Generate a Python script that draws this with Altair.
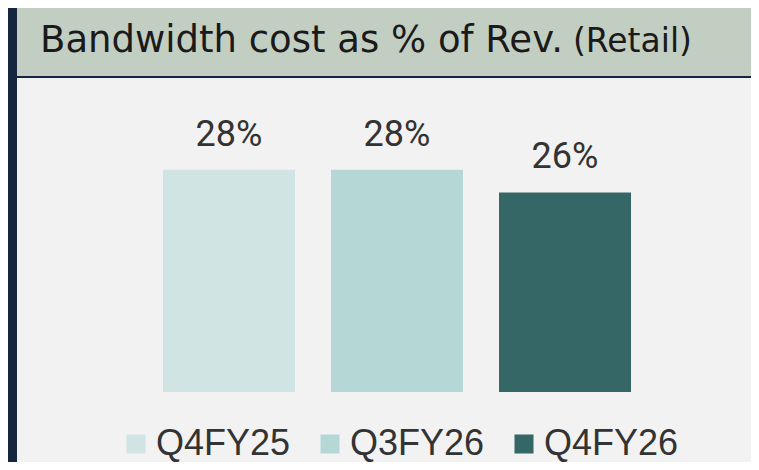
import altair as alt
import pandas as pd

# ---- data ----
quarters = ["Q4FY25", "Q3FY26", "Q4FY26"]
values = [28.4, 28.4, 25.5]          # % of revenue (labels read 28%, 28%, 26%)
colors = ["#d0e5e3", "#b5d8d7", "#366767"]
title_main = "Bandwidth cost as % of Rev."
title_sub = "(Retail)"

df = pd.DataFrame({"quarter": quarters, "value": values})
one = pd.DataFrame({"k": [0]})

W, H = 504, 313  # plot area (bars region)

x = alt.X("quarter:N", sort=quarters, axis=None,
          scale=alt.Scale(paddingInner=0.2143, paddingOuter=0.1071))
y = alt.Y("value:Q", axis=None, scale=alt.Scale(domain=[0, 40]))

panel = alt.Chart(one).mark_rect(color="#f2f2f2").encode(
    x=alt.value(-128), x2=alt.value(620), y=alt.value(-1), y2=alt.value(400))

band = alt.Chart(one).mark_rect(color="#c3cec2").encode(
    x=alt.value(-128), x2=alt.value(620), y=alt.value(-80), y2=alt.value(-3))

t_main = alt.Chart(one).mark_text(
    text=title_main, align="left", baseline="alphabetic",
    font="DejaVu Sans", fontSize=37, color="#1a1a1a").encode(
    x=alt.value(-105), y=alt.value(-27))

t_sub = alt.Chart(one).mark_text(
    text=title_sub, align="left", baseline="alphabetic",
    font="DejaVu Sans", fontSize=33, color="#1a1a1a").encode(
    x=alt.value(428), y=alt.value(-27))

bars = alt.Chart(df).mark_bar().encode(
    x=x, y=y,
    color=alt.Color("quarter:N", sort=quarters,
                    scale=alt.Scale(domain=quarters, range=colors),
                    legend=alt.Legend(
                        orient="none", legendX=-27, legendY=347,
                        direction="horizontal", title=None,
                        symbolType="square", symbolSize=361,
                        symbolStrokeWidth=0, symbolOpacity=1,
                        labelFont="Liberation Sans", labelFontSize=36,
                        labelColor="#333333", labelOffset=2,
                        columnPadding=21, padding=0, labelLimit=0)))

labels = alt.Chart(df).transform_calculate(
    label="format(datum.value, '.0f') + '%'"
).mark_text(dy=-24, baseline="alphabetic", font="Roboto",
            fontSize=36, color="#333333").encode(
    x=x, y=y, text="label:N")

chart = alt.layer(panel, band, t_main, t_sub, bars, labels).properties(
    width=W, height=H,
    padding={"left": 137, "top": 71, "right": 102, "bottom": 70},
    autosize="none",
    background="#15263e",
).configure_view(stroke=None)

chart.save("out.html", embed_options={"renderer": "svg", "actions": False})
